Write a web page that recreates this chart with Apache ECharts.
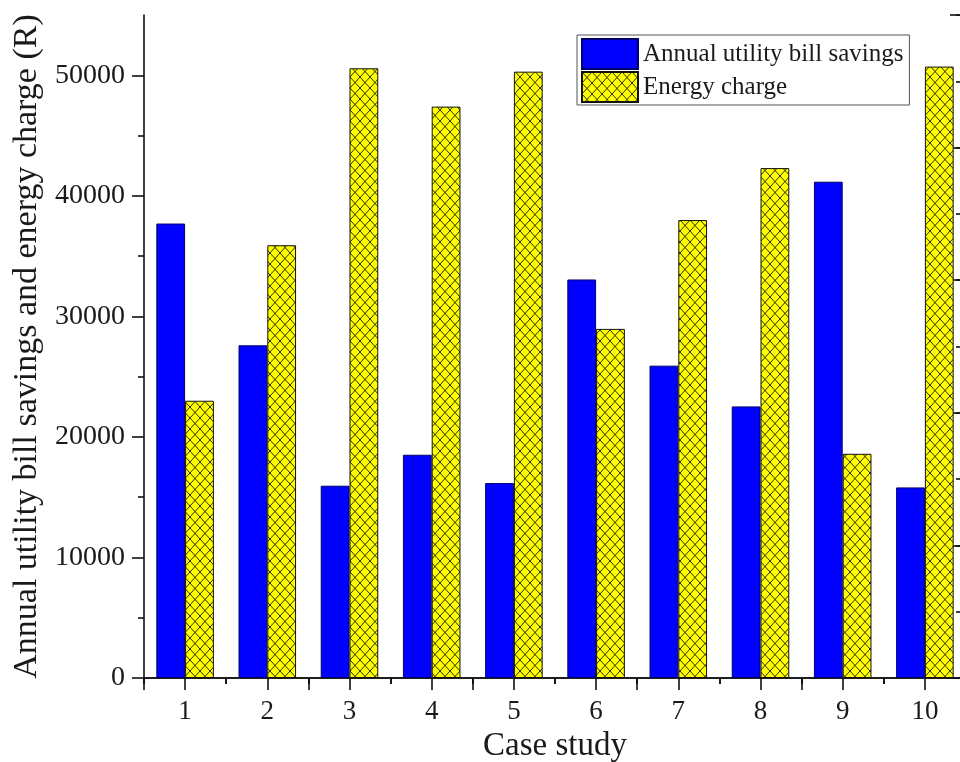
<!DOCTYPE html>
<html>
<head>
<meta charset="utf-8">
<script src="https://cdn.jsdelivr.net/npm/echarts@6/dist/echarts.min.js"></script>
<style>
html,body{margin:0;padding:0;background:#fff;}
#chart{width:960px;height:762px;}
</style>
</head>
<body>
<div id="chart"></div>
<script>
// ---- data ----
var categories = ['1','2','3','4','5','6','7','8','9','10'];
var savings = [37700, 27600, 15950, 18520, 16170, 33060, 25910, 22530, 41170, 15810];
var energyCharge = [23000, 35900, 50580, 47400, 50300, 28960, 37990, 42300, 18600, 50720];
var yMajorTicks = [0, 10000, 20000, 30000, 40000, 50000];
var yMinorTicks = [5000, 15000, 25000, 35000, 45000];
var seriesNames = ['Annual utility bill savings', 'Energy charge'];
var axisTitleY = 'Annual utility bill savings and energy charge (R)';
var axisTitleX = 'Case study';

// ---- crosshatch pattern ----
function makeHatch() {
  var c = document.createElement('canvas');
  c.width = 10; c.height = 11;
  var g = c.getContext('2d');
  g.fillStyle = '#ffff00';
  g.fillRect(0, 0, 10, 11);
  g.strokeStyle = '#2e2e00';
  g.lineWidth = 1;
  g.beginPath();
  g.moveTo(0, 0); g.lineTo(10, 11);
  g.moveTo(10, 0); g.lineTo(0, 11);
  g.stroke();
  return c;
}
var hatch = { image: makeHatch(), repeat: 'repeat' };

var FONT = 'Liberation Serif';
var TXT = '#1a1a1a';
var TICK = { color: '#111', width: 1.6 };

var chart = echarts.init(document.getElementById('chart'), null, { renderer: 'canvas' });
chart.setOption({
  backgroundColor: '#fff',
  animation: false,
  grid: { left: 144, top: 15, width: 822, height: 663, containLabel: false, outerBoundsMode: 'none' },
  legend: {
    orient: 'vertical',
    left: 577, top: 35,
    itemWidth: 56, itemHeight: 30, itemGap: 1,
    padding: [3, 6, 2, 4],
    borderColor: '#555', borderWidth: 1,
    icon: 'rect',
    textStyle: { fontFamily: FONT, fontSize: 25, color: TXT },
    data: seriesNames
  },
  xAxis: [
    { type: 'category', data: categories, position: 'bottom',
      axisLine: { lineStyle: TICK },
      axisTick: { show: true, alignWithLabel: true, length: 12, lineStyle: TICK },
      axisLabel: { fontFamily: FONT, fontSize: 27, color: TXT, margin: 20 },
      name: axisTitleX, nameLocation: 'middle', nameGap: 48,
      nameTextStyle: { fontFamily: FONT, fontSize: 33, color: TXT }
    },
    { type: 'category', data: categories, position: 'bottom',
      axisLine: { show: false },
      axisTick: { show: true, interval: 0, length: 6, lineStyle: TICK },
      axisLabel: { show: false } },
    { type: 'category', data: categories, position: 'top',
      axisLine: { lineStyle: TICK },
      axisTick: { show: true, interval: 0, inside: true, length: 6, lineStyle: TICK },
      axisLabel: { show: false } },
    { type: 'category', data: categories, position: 'top',
      axisLine: { show: false },
      axisTick: { show: true, interval: 1, inside: true, length: 12, lineStyle: TICK },
      axisLabel: { show: false } }
  ],
  yAxis: [
    { type: 'value', min: 0, max: 55000, position: 'left',
      splitLine: { show: false },
      axisLine: { show: true, lineStyle: TICK },
      axisTick: { show: true, length: 12, customValues: yMajorTicks, lineStyle: TICK },
      axisLabel: { customValues: yMajorTicks, formatter: function (v) { return String(v); },
        fontFamily: FONT, fontSize: 28, color: TXT, margin: 19 },
      name: axisTitleY, nameLocation: 'middle', nameGap: 94, nameRotate: 90,
      nameTextStyle: { fontFamily: FONT, fontSize: 34, color: TXT }
    },
    { type: 'value', min: 0, max: 55000, position: 'left',
      splitLine: { show: false },
      axisLine: { show: false },
      axisTick: { show: true, length: 6, customValues: yMinorTicks, lineStyle: TICK },
      axisLabel: { show: false } },
    { type: 'value', min: 0, max: 5, interval: 1, position: 'right', offset: -4,
      splitLine: { show: false },
      axisLine: { show: true, lineStyle: TICK },
      axisTick: { show: true, inside: true, length: 12, lineStyle: TICK },
      axisLabel: { show: false } },
    { type: 'value', min: 0, max: 5, interval: 0.5, position: 'right', offset: -4,
      splitLine: { show: false },
      axisLine: { show: false },
      axisTick: { show: true, inside: true, length: 6, lineStyle: TICK },
      axisLabel: { show: false } }
  ],
  series: [
    { name: seriesNames[0], type: 'bar', xAxisIndex: 0, yAxisIndex: 0,
      data: savings, barGap: '0%', barCategoryGap: '30%',
      itemStyle: { color: '#0000ff', borderColor: '#00006a', borderWidth: 1 } },
    { name: seriesNames[1], type: 'bar', xAxisIndex: 0, yAxisIndex: 0,
      data: energyCharge, barGap: '0%', barCategoryGap: '30%',
      itemStyle: { color: hatch, borderColor: '#111', borderWidth: 1 } }
  ]
});
</script>
</body>
</html>
